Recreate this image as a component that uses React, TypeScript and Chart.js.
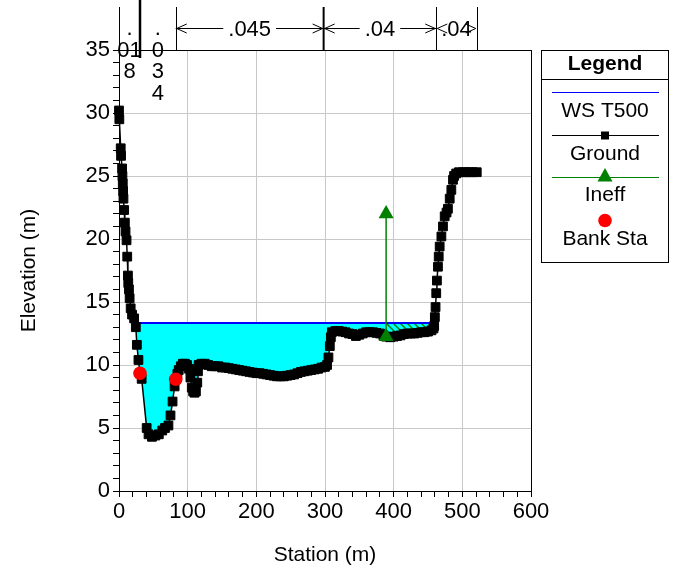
import React, { useEffect, useRef } from "react";
import { Chart, registerables } from "chart.js";

Chart.register(...registerables);

const FONT = "'Liberation Sans', Arial, Helvetica, sans-serif";

// ---- Data ----
const groundStations = [
  0, 0.5, 2.5, 3, 4.5, 5, 5.5, 6, 6.5, 7.5, 8.5, 9.5, 11, 12, 13, 13.5, 14.5, 15.5, 17, 19, 22, 24.5, 26, 28.3,
  30.6, 33, 40.3, 43, 48, 53, 58, 63, 67, 72, 75, 78, 81, 83, 85, 87, 90, 93, 96, 99, 102, 104, 106, 108, 110,
  112, 114, 115, 116, 120, 125, 130, 135, 140, 145, 150, 155, 160, 165, 170, 175, 180, 185, 190, 195, 200, 205,
  210, 215, 220, 225, 230, 235, 240, 245, 250, 255, 260, 265, 270, 275, 280, 285, 290, 295, 300, 303, 305, 307,
  308.5, 310, 315, 320, 325, 330, 335, 340, 345, 350, 355, 360, 365, 370, 375, 380, 385, 389, 395, 400, 405,
  410, 415, 420, 425, 430, 435, 440, 445, 450, 455, 458, 459, 460, 461, 462, 463, 464.5, 465.6, 467, 469.5,
  471.8, 474.3, 477, 479, 481.6, 484, 486.4, 488, 491, 495, 501, 505, 510, 515, 521,
];
const groundElevations = [
  30.2, 29.5, 27.2, 26.6, 25.6, 25.0, 24.4, 23.8, 23.2, 22.3, 21.3, 20.6, 19.9, 18.6, 17.1, 16.5, 16.0, 15.3,
  14.5, 14.0, 13.7, 13.0, 11.6, 10.4, 9.34, 8.9, 5.0, 4.5, 4.3, 4.4, 4.5, 4.8, 5.0, 5.2, 6.0, 7.1, 8.3, 8.87,
  9.3, 9.6, 9.9, 10.1, 10.1, 10.0, 9.7, 9.0, 8.2, 7.9, 7.8, 7.9, 8.6, 9.5, 10.0, 10.1, 10.1, 10.0, 9.9, 9.9,
  9.9, 9.8, 9.8, 9.75, 9.7, 9.65, 9.6, 9.55, 9.5, 9.45, 9.4, 9.35, 9.35, 9.3, 9.25, 9.2, 9.15, 9.1, 9.1, 9.1,
  9.15, 9.2, 9.25, 9.35, 9.45, 9.5, 9.55, 9.6, 9.65, 9.7, 9.8, 9.85, 10.0, 10.6, 11.5, 12.2, 12.6, 12.7, 12.7,
  12.65, 12.6, 12.5, 12.45, 12.3, 12.4, 12.5, 12.6, 12.6, 12.6, 12.55, 12.5, 12.35, 12.25, 12.2, 12.25, 12.3,
  12.35, 12.45, 12.5, 12.5, 12.5, 12.55, 12.6, 12.6, 12.65, 12.75, 12.9, 13.1, 13.8, 14.6, 15.7, 16.7, 17.8,
  18.6, 19.4, 20.2, 21.0, 21.8, 22.1, 22.4, 23.2, 23.9, 24.7, 25.0, 25.2, 25.3, 25.3, 25.3, 25.3, 25.3, 25.3,
];
const wsLabel = "WS T500";
const wsElevation = 13.33;
const bankStations = [30.6, 82.6];
const bankElevations = [9.34, 8.87];
const ineffStations = [389, 389];
const ineffElevations = [12.25, 22.0];
const nStations = [0, 30.6, 82.6, 298, 462, 521];
const nLabelLines = [[".", "01", "8"], [".", "0", "3", "4"], [".045"], [".04"], [".04"]];
const xMajorTicks = [0, 100, 200, 300, 400, 500, 600];
const yMajorTicks = [0, 5, 10, 15, 20, 25, 30, 35];
const legendItems = [wsLabel, "Ground", "Ineff", "Bank Sta"];

// ---- helpers derived from data ----
function groundAt(s: number): number {
  for (let i = 0; i < groundStations.length - 1; i++) {
    const a = groundStations[i], b = groundStations[i + 1];
    if (s >= a && s <= b) {
      const t = b === a ? 0 : (s - a) / (b - a);
      return groundElevations[i] + t * (groundElevations[i + 1] - groundElevations[i]);
    }
  }
  return groundElevations[groundElevations.length - 1];
}
function crossings(ws: number): [number, number] {
  let left = groundStations[0], right = groundStations[groundStations.length - 1];
  for (let i = 0; i < groundStations.length - 1; i++) {
    const g0 = groundElevations[i], g1 = groundElevations[i + 1];
    if (g0 >= ws && g1 < ws) {
      left = groundStations[i] + ((ws - g0) / (g1 - g0)) * (groundStations[i + 1] - groundStations[i]);
      break;
    }
  }
  for (let i = groundStations.length - 2; i >= 0; i--) {
    const g0 = groundElevations[i], g1 = groundElevations[i + 1];
    if (g0 < ws && g1 >= ws) {
      right = groundStations[i] + ((ws - g0) / (g1 - g0)) * (groundStations[i + 1] - groundStations[i]);
      break;
    }
  }
  return [left, right];
}
function groundSegment(from: number, to: number) {
  const pts = [{ x: from, y: groundAt(from) }];
  groundStations.forEach((s, i) => {
    if (s > from && s < to) pts.push({ x: s, y: groundElevations[i] });
  });
  pts.push({ x: to, y: groundAt(to) });
  return pts;
}

function makeHatch(): CanvasPattern | string {
  const c = document.createElement("canvas");
  c.width = 7;
  c.height = 7;
  const g = c.getContext("2d");
  if (!g) return "#00c0a0";
  g.fillStyle = "#00ffff";
  g.fillRect(0, 0, 7, 7);
  g.strokeStyle = "#008000";
  g.lineWidth = 1.4;
  g.beginPath();
  g.moveTo(-1, -1);
  g.lineTo(8, 8);
  g.moveTo(-1, 6);
  g.lineTo(1, 8);
  g.moveTo(6, -1);
  g.lineTo(8, 1);
  g.stroke();
  return g.createPattern(c, "repeat") || "#00c0a0";
}

const framePlugin = {
  id: "frame",
  afterDraw(chart: any) {
    const { ctx, chartArea: a } = chart;
    ctx.save();
    ctx.strokeStyle = "#000";
    ctx.lineWidth = 1;
    ctx.strokeRect(Math.round(a.left) + 0.5, Math.round(a.top) + 0.5, Math.round(a.right - a.left), Math.round(a.bottom - a.top));
    ctx.restore();
  },
};

const manningPlugin = {
  id: "manning",
  afterDraw(chart: any) {
    const { ctx, chartArea: a } = chart;
    const xs = chart.scales.x;
    ctx.save();
    ctx.strokeStyle = "#000";
    ctx.fillStyle = "#000";
    ctx.font = `22px ${FONT}`;
    ctx.textAlign = "center";
    ctx.textBaseline = "middle";
    const px = nStations.map((s) => xs.getPixelForValue(s));
    px.forEach((x, i) => {
      const w = i === 1 ? 2.5 : i === 3 ? 2 : 1;
      ctx.lineWidth = w;
      ctx.beginPath();
      const xx = w === 1 ? Math.round(x) + 0.5 : x;
      ctx.moveTo(xx, i === 1 ? 0 : 7);
      ctx.lineTo(xx, i === 1 ? a.top + 8 : a.top);
      ctx.stroke();
    });
    ctx.lineWidth = 1;
    const ay = 28.5;
    const head = (x: number, dir: number) => {
      ctx.beginPath();
      ctx.moveTo(x - dir * 10, ay - 4.5);
      ctx.lineTo(x, ay);
      ctx.lineTo(x - dir * 10, ay + 4.5);
      ctx.stroke();
    };
    nLabelLines.forEach((lines, i) => {
      const x0 = px[i], x1 = px[i + 1];
      const cx = (x0 + x1) / 2;
      if (lines.length > 1) {
        lines.forEach((t, k) => ctx.fillText(t, cx, 29 + k * 21.5));
        return;
      }
      const t = lines[0];
      const tw = ctx.measureText(t).width;
      ctx.fillText(t, cx, 30);
      const gap = 5;
      if (x1 - x0 - tw > 2 * gap + 20) {
        ctx.beginPath();
        ctx.moveTo(x0, ay);
        ctx.lineTo(cx - tw / 2 - gap, ay);
        ctx.moveTo(cx + tw / 2 + gap, ay);
        ctx.lineTo(x1, ay);
        ctx.stroke();
      }
      head(x0 + 1, -1);
      head(x1 - 1, 1);
    });
    ctx.restore();
  },
};

const legendPlugin = {
  id: "customLegend",
  afterDraw(chart: any) {
    const { ctx } = chart;
    const L = 541.5, T = 50.5, W = 127, H = 212;
    const cx = L + W / 2;
    ctx.save();
    ctx.fillStyle = "#fff";
    ctx.fillRect(L, T, W, H);
    ctx.strokeStyle = "#000";
    ctx.lineWidth = 1;
    ctx.strokeRect(L, T, W, H);
    ctx.beginPath();
    ctx.moveTo(L, 79.5);
    ctx.lineTo(L + W, 79.5);
    ctx.stroke();
    ctx.fillStyle = "#000";
    ctx.textAlign = "center";
    ctx.textBaseline = "middle";
    ctx.font = `bold 21px ${FONT}`;
    ctx.fillText("Legend", cx, 64);
    ctx.font = `21px ${FONT}`;
    const x0 = 552, x1 = 659;
    // WS
    ctx.strokeStyle = "#0000ff";
    ctx.beginPath();
    ctx.moveTo(x0, 92.5);
    ctx.lineTo(x1, 92.5);
    ctx.stroke();
    ctx.fillText(legendItems[0], cx, 111);
    // Ground
    ctx.strokeStyle = "#000";
    ctx.beginPath();
    ctx.moveTo(x0, 135.5);
    ctx.lineTo(x1, 135.5);
    ctx.stroke();
    ctx.fillRect(cx - 4, 131.5, 8, 8);
    ctx.fillText(legendItems[1], cx, 154);
    // Ineff
    ctx.strokeStyle = "#008000";
    ctx.fillStyle = "#008000";
    ctx.beginPath();
    ctx.moveTo(x0, 177.5);
    ctx.lineTo(x1, 177.5);
    ctx.stroke();
    ctx.beginPath();
    ctx.moveTo(cx, 168);
    ctx.lineTo(cx + 7.5, 181.5);
    ctx.lineTo(cx - 7.5, 181.5);
    ctx.closePath();
    ctx.fill();
    ctx.fillStyle = "#000";
    ctx.fillText(legendItems[2], cx, 195.5);
    // Bank sta
    ctx.fillStyle = "#ff0000";
    ctx.beginPath();
    ctx.arc(cx, 220.5, 6.8, 0, Math.PI * 2);
    ctx.fill();
    ctx.fillStyle = "#000";
    ctx.fillText(legendItems[3], cx, 239.5);
    ctx.restore();
  },
};

export default function App() {
  const ref = useRef<HTMLCanvasElement | null>(null);
  useEffect(() => {
    if (!ref.current) return;
    const [wsLeft, wsRight] = crossings(wsElevation);
    const ineffX = ineffStations[0];
    const hatch = makeHatch();
    const groundData = groundStations.map((s, i) => ({ x: s, y: groundElevations[i] }));
    const chart = new Chart(ref.current, {
      type: "line",
      data: {
        datasets: [
          {
            label: "Bank Sta",
            data: bankStations.map((s, i) => ({ x: s, y: bankElevations[i] })),
            showLine: false,
            pointStyle: "circle",
            pointRadius: 6.8,
            pointBackgroundColor: "#ff0000",
            pointBorderWidth: 0,
            borderColor: "#ff0000",
            order: 0,
            clip: false,
          } as any,
          {
            label: "Ineff",
            data: ineffStations.map((s, i) => ({ x: s, y: ineffElevations[i] })),
            borderColor: "#008000",
            borderWidth: 1.5,
            pointStyle: "triangle",
            pointRadius: 8.7,
            pointBackgroundColor: "#008000",
            pointBorderWidth: 0,
            order: 1,
          },
          {
            label: "Ground",
            data: groundData,
            borderColor: "#000",
            borderWidth: 1.5,
            pointStyle: "rect",
            pointRadius: 6.2,
            pointBackgroundColor: "#000",
            pointBorderColor: "#000",
            pointBorderWidth: 1,
            order: 2,
            clip: false,
          } as any,
          {
            label: wsLabel,
            data: [
              { x: wsLeft, y: wsElevation },
              { x: wsRight, y: wsElevation },
            ],
            borderColor: "#0000ff",
            borderWidth: 2,
            pointRadius: 0,
            order: 3,
          },
          {
            label: "ineffArea",
            data: groundSegment(ineffX, wsRight),
            borderWidth: 0,
            pointRadius: 0,
            fill: { value: wsElevation },
            backgroundColor: hatch as any,
            order: 4,
          },
          {
            label: "water",
            data: groundSegment(wsLeft, ineffX),
            borderWidth: 0,
            pointRadius: 0,
            fill: { value: wsElevation },
            backgroundColor: "#00ffff",
            order: 5,
          },
        ],
      },
      options: {
        responsive: false,
        animation: false,
        layout: { padding: { top: 50, right: 146, left: 0, bottom: 0 } },
        plugins: { legend: { display: false }, tooltip: { enabled: false } },
        elements: { line: { tension: 0 } },
        scales: {
          x: {
            type: "linear",
            min: 0,
            max: 600,
            afterFit: (s: any) => {
              s.height = 82;
            },
            ticks: {
              stepSize: 20,
              autoSkip: false,
              maxRotation: 0,
              color: "#000",
              padding: 2,
              font: { family: FONT, size: 22 },
              callback: (v: any) => (xMajorTicks.includes(Number(v)) ? String(v) : ""),
            },
            grid: {
              color: (c: any) => (c.tick && xMajorTicks.includes(c.tick.value) ? "#c8c8c8" : "rgba(0,0,0,0)"),
              tickColor: "#000",
              tickLength: 6,
              lineWidth: 1,
            },
            border: { color: "#000", width: 1 },
            title: {
              display: true,
              text: "Station (m)",
              color: "#000",
              font: { family: FONT, size: 21 },
              padding: { top: 0, bottom: 5 },
            },
          },
          y: {
            type: "linear",
            min: 0,
            max: 35,
            afterFit: (s: any) => {
              s.width = 119;
            },
            ticks: {
              stepSize: 1,
              autoSkip: false,
              color: "#000",
              padding: 3,
              font: { family: FONT, size: 22 },
              callback: (v: any) => (yMajorTicks.includes(Number(v)) ? String(v) : ""),
            },
            grid: {
              color: (c: any) => (c.tick && yMajorTicks.includes(c.tick.value) ? "#c8c8c8" : "rgba(0,0,0,0)"),
              tickColor: "#000",
              tickLength: 6,
              lineWidth: 1,
            },
            border: { color: "#000", width: 1 },
            title: {
              display: true,
              text: "Elevation (m)",
              color: "#000",
              font: { family: FONT, size: 21 },
              padding: { top: 17, bottom: 0 },
            },
          },
        },
      },
      plugins: [framePlugin, manningPlugin, legendPlugin],
    });
    return () => chart.destroy();
  }, []);
  return (
    <div style={{ position: "absolute", left: 0, top: 0, width: 677, height: 573, background: "#fff" }}>
      <canvas ref={ref} width={677} height={573} />
    </div>
  );
}
